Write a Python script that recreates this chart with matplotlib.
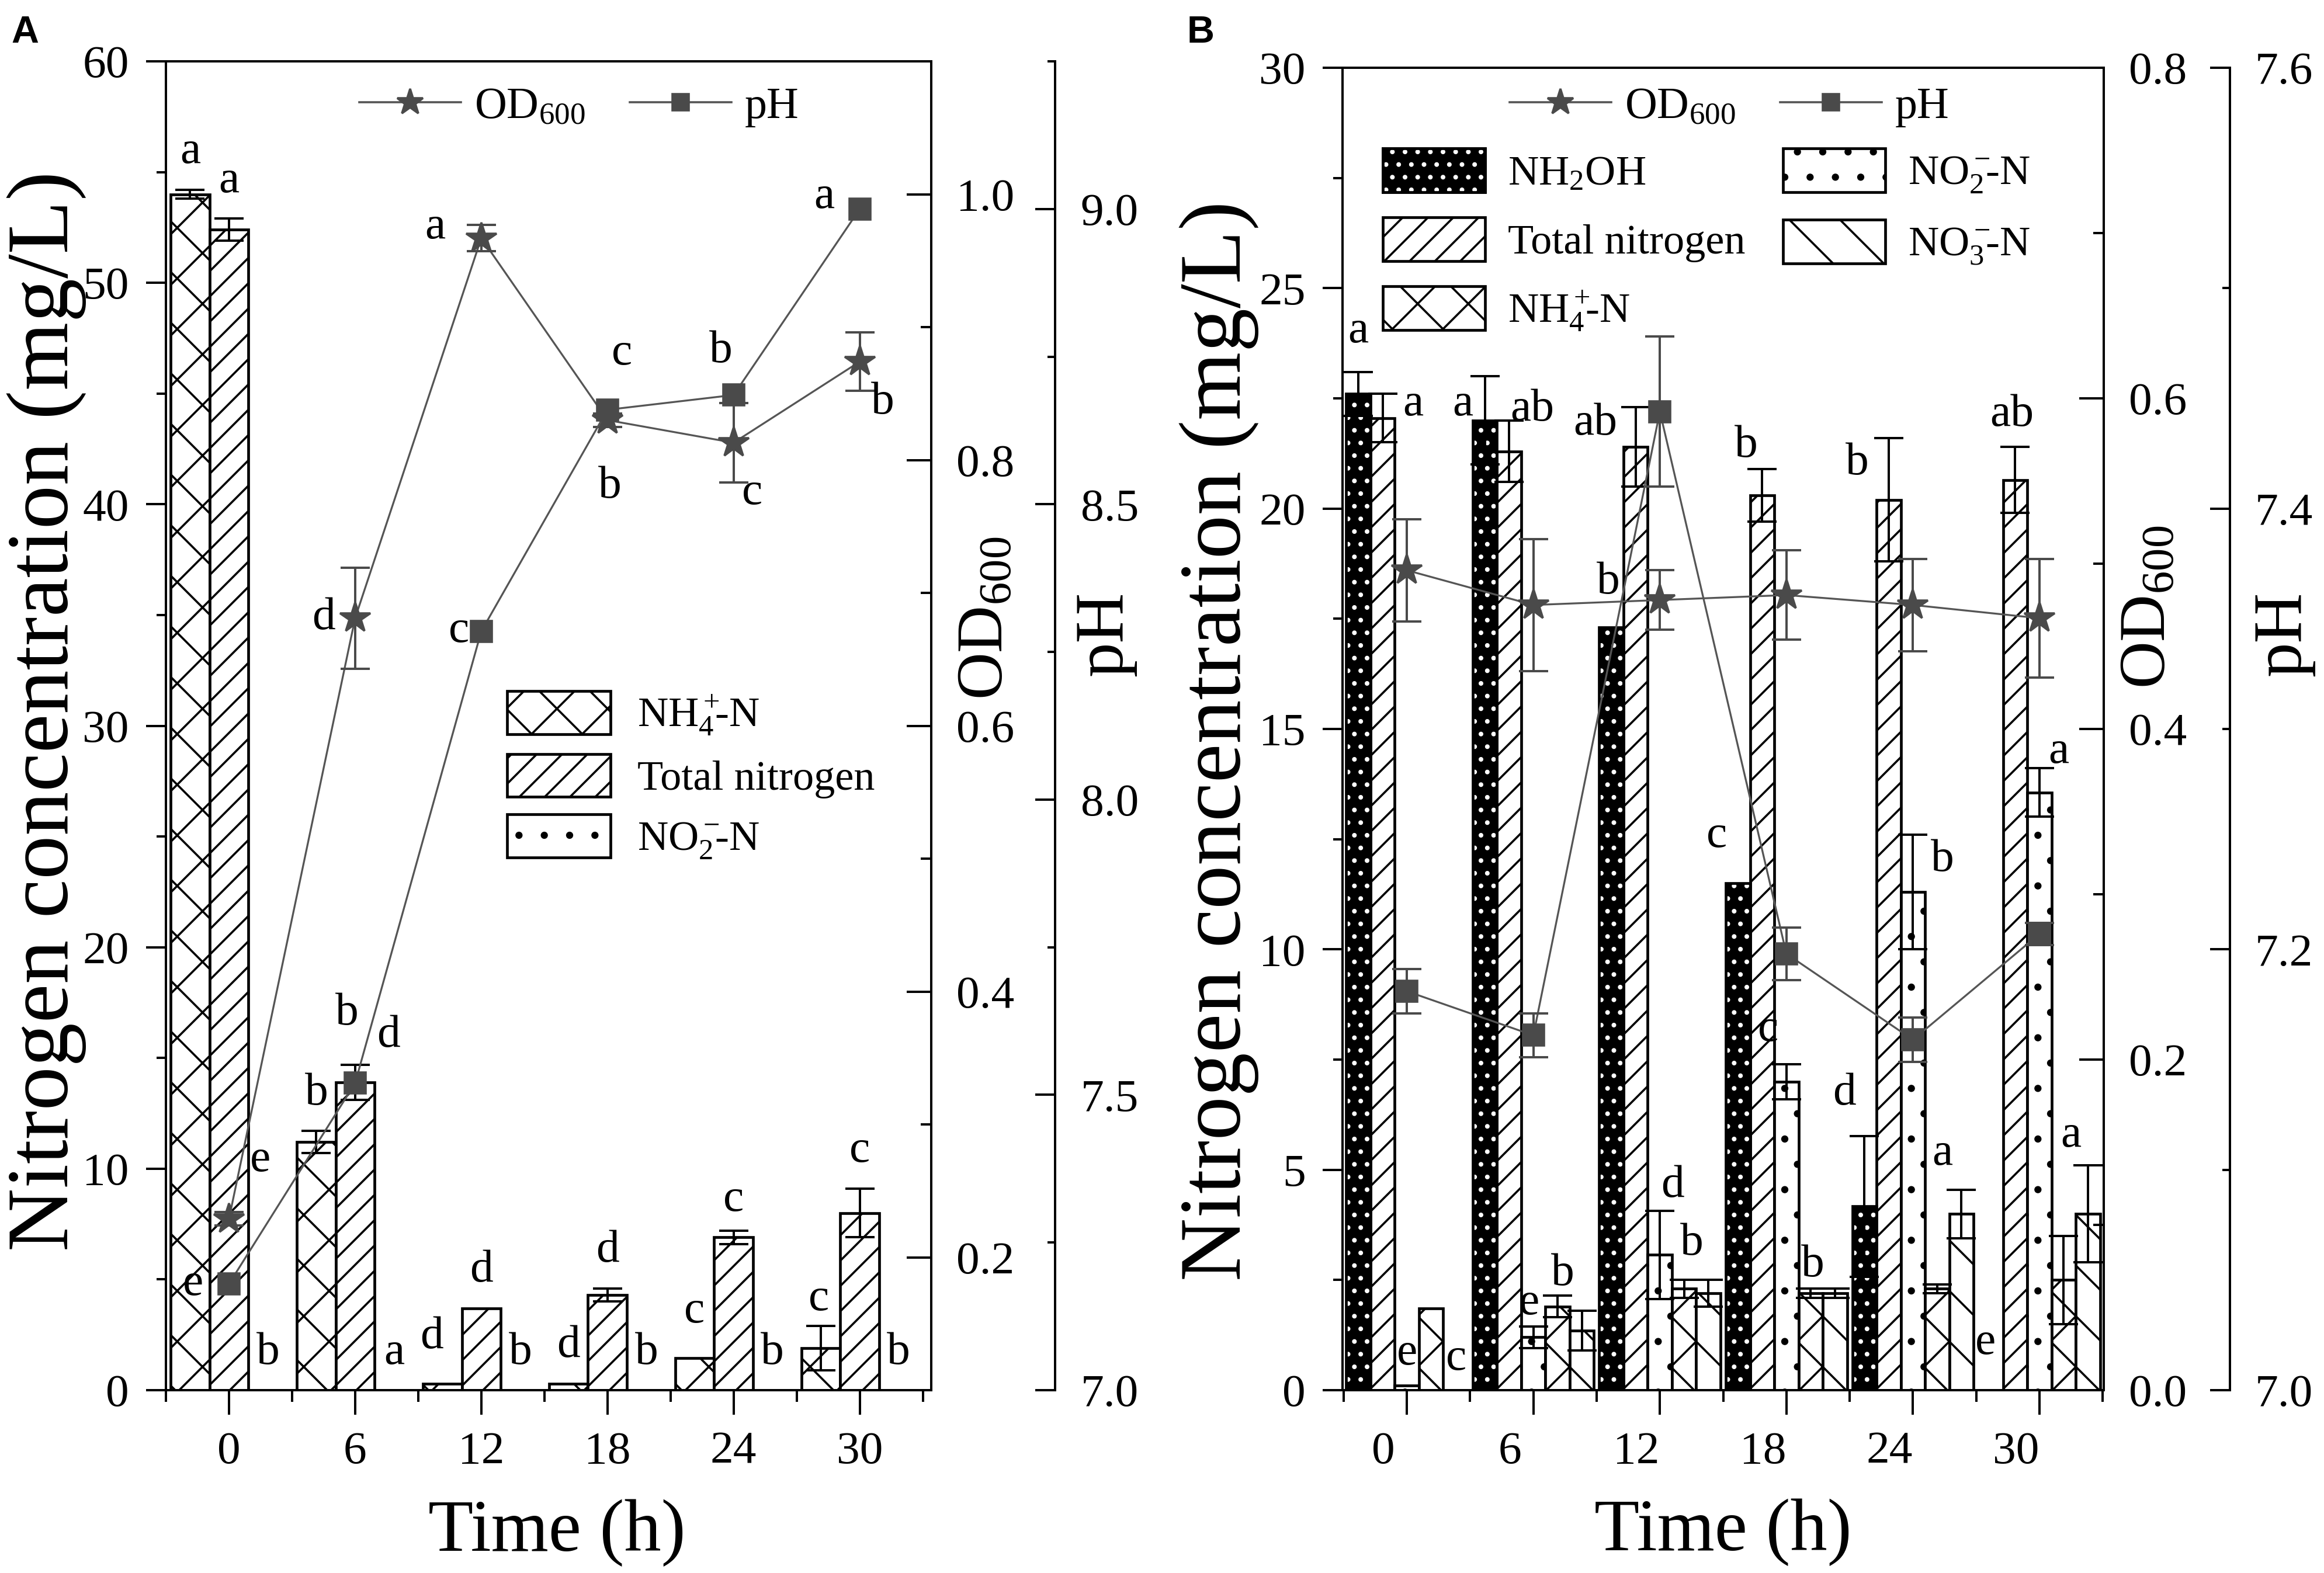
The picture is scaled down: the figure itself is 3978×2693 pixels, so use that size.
import matplotlib
matplotlib.use('Agg')
import matplotlib.pyplot as plt
from matplotlib.patches import Patch
from matplotlib.lines import Line2D
from matplotlib.ticker import MultipleLocator, FixedLocator, FormatStrFormatter
from matplotlib.legend_handler import HandlerTuple
from matplotlib.transforms import ScaledTranslation

plt.rcParams['font.family'] = ['Liberation Serif', 'DejaVu Serif']
plt.rcParams['mathtext.fontset'] = 'custom'
plt.rcParams['mathtext.rm'] = 'Liberation Serif'
plt.rcParams['mathtext.it'] = 'Liberation Serif:italic'
plt.rcParams['mathtext.bf'] = 'Liberation Serif:bold'
plt.rcParams['hatch.linewidth'] = 1.0

# ---------------- data ----------------
times = [0, 6, 12, 18, 24, 30]

# Panel A
a_nh4 = [54.0, 11.2, 0.3, 0.3, 1.45, 1.9]
a_nh4_err = [0.2, 0.5, 0.0, 0.0, 0.0, 1.0]
a_tn = [52.4, 13.9, 3.7, 4.3, 6.9, 8.0]
a_tn_err = [0.5, 0.8, 0.0, 0.3, 0.3, 1.1]
a_no2 = [0.0, 0.0, 0.0, 0.0, 0.0, 0.0]
a_no2_err = [0.0, 0.0, 0.0, 0.0, 0.0, 0.0]
a_od = [0.229, 0.681, 0.967, 0.830, 0.813, 0.874]
a_od_err = [0.005, 0.038, 0.010, 0.005, 0.030, 0.022]
a_ph = [7.18, 7.52, 8.285, 8.66, 8.685, 9.00]

a_nh4_letters = ['a', 'b', 'd', 'd', 'c', 'c']
a_tn_letters = ['a', 'b', 'd', 'd', 'c', 'c']
a_no2_letters = ['b', 'a', 'b', 'b', 'b', 'b']
a_od_letters = ['e', 'd', 'a', 'b', 'c', 'b']
a_ph_letters = ['e', 'd', 'c', 'c', 'b', 'a']

# Panel B
b_nh2oh = [22.6, 22.0, 17.3, 11.5, 4.17, 0.0]
b_nh2oh_err = [0.5, 1.0, 0.0, 0.0, 1.6, 0.0]
b_tn = [22.05, 21.3, 21.4, 20.3, 20.2, 20.65]
b_tn_err = [0.55, 0.7, 0.9, 0.6, 1.4, 0.75]
b_no2 = [0.1, 1.2, 3.07, 7.0, 11.3, 13.56]
b_no2_err = [0.0, 0.25, 1.0, 0.4, 1.3, 0.55]
b_nh4 = [1.85, 1.9, 2.3, 2.2, 2.3, 2.5]
b_nh4_err = [0.0, 0.25, 0.2, 0.1, 0.1, 1.0]
b_no3 = [0.0, 1.35, 2.2, 2.2, 4.0, 4.0]
b_no3_err = [0.0, 0.45, 0.3, 0.1, 0.55, 1.1]
b_od = [0.496, 0.475, 0.478, 0.481, 0.475, 0.467]
b_od_err = [0.031, 0.040, 0.018, 0.027, 0.028, 0.036]
b_ph = [7.181, 7.161, 7.444, 7.198, 7.159, 7.207]
b_ph_err = [0.010, 0.010, 0.034, 0.012, 0.010, 0.005]

b_nh2oh_letters = ['a', 'a', 'b', 'c', 'd', 'e']
b_tn_letters = ['a', 'ab', 'ab', 'b', 'b', 'ab']
b_no2_letters = ['e', 'e', 'd', 'c', 'b', 'a']
b_nh4_letters = ['', 'b', '', 'b', '', '']
b_no3_letters = ['c', '', 'b', '', 'a', 'a']

lbl_nh4 = 'NH$_4^+\\!\\!$-N'
lbl_tn = 'Total nitrogen'
lbl_no2 = 'NO$_2^-\\!\\!$-N'
lbl_no3 = 'NO$_3^-\\!\\!$-N'
lbl_nh2oh = 'NH$_2$OH'
lbl_od = 'OD$_{600}$'
lbl_ph = 'pH'

# ---------------- styles / layout ----------------
W, H = 3978, 2693
DPI = 260
fig = plt.figure(figsize=(W / DPI, H / DPI), dpi=DPI)

def fx(px):
    return px / W

def fy(py):
    return 1 - py / H

LW = 1.1
EDGE_LW = 1.3
MK_COL = '#4a4a4a'
LN_COL = '#555555'
LET_FS = 22
TICK_FS = 22
LEG_FS = 20

styles = {
    'nh4': dict(facecolor='white', hatch='x'),
    'tn': dict(facecolor='white', hatch='//'),
    'no2': dict(facecolor='white', hatch='.'),
    'no3': dict(facecolor='white', hatch='\\'),
}


def draw_bars(ax, xs, h, err, width, key):
    if key == 'nh2oh':
        ax.bar(xs, h, width, facecolor='black', edgecolor='black', linewidth=0, zorder=2)
        ax.bar(xs, h, width, facecolor='none', edgecolor='white', hatch='..', linewidth=0, zorder=2.1)
        ax.bar(xs, h, width, facecolor='none', edgecolor='black', linewidth=EDGE_LW, zorder=2.2)
    else:
        ax.bar(xs, h, width, edgecolor='black', linewidth=EDGE_LW, zorder=2, **styles[key])
    ex = [x for x, e in zip(xs, err) if e > 0]
    ey = [v for v, e in zip(h, err) if e > 0]
    ee = [e for e in err if e > 0]
    if ex:
        ax.errorbar(ex, ey, yerr=ee, fmt='none', ecolor='black', elinewidth=LW,
                    capsize=7, capthick=LW, zorder=3)


def style_axes(ax, ax_od, ax_ph, ph_pos, xlim):
    ax.set_xlim(*xlim)
    ax.xaxis.set_major_locator(FixedLocator(times))
    ax.xaxis.set_minor_locator(FixedLocator([-3, 3, 9, 15, 21, 27, 33]))
    ax.tick_params(axis='x', which='major', direction='out', length=11.5, width=LW,
                   labelsize=TICK_FS, pad=8)
    ax.tick_params(axis='x', which='minor', direction='out', length=5.5, width=LW)
    ax.tick_params(axis='y', which='major', direction='out', length=9.5, width=LW,
                   labelsize=TICK_FS, pad=8)
    ax.tick_params(axis='y', which='minor', direction='out', length=4.5, width=LW)
    for s in ax.spines.values():
        s.set_linewidth(LW)
    ax_od.tick_params(axis='y', which='major', direction='in', length=11.5, width=LW,
                      labelsize=TICK_FS, pad=12)
    ax_od.tick_params(axis='y', which='minor', direction='in', length=5, width=LW)
    ax_ph.spines['right'].set_position(('axes', ph_pos))
    for nm in ['top', 'left', 'bottom']:
        ax_ph.spines[nm].set_visible(False)
        ax_od.spines[nm].set_visible(False)
    ax_od.spines['right'].set_linewidth(LW)
    ax_ph.spines['right'].set_linewidth(LW)
    ax_ph.tick_params(axis='y', which='major', direction='in', length=9.5, width=LW,
                      labelsize=TICK_FS, pad=12)
    ax_ph.tick_params(axis='y', which='minor', direction='in', length=3.5, width=LW)
    ax_od.yaxis.set_major_formatter(FormatStrFormatter('%.1f'))
    ax_ph.yaxis.set_major_formatter(FormatStrFormatter('%.1f'))


def line_series(ax, y, yerr, marker, ms):
    ax.plot(times, y, color=LN_COL, lw=0.9, zorder=4)
    if yerr is not None:
        ax.errorbar(times, y, yerr=yerr, fmt='none', ecolor=MK_COL, elinewidth=LW,
                    capsize=7, capthick=LW, zorder=4)
    ax.plot(times, y, linestyle='none', marker=marker, ms=ms, mfc=MK_COL, mec=MK_COL,
            zorder=5)


def line_legend(ax, anchor):
    h_od = Line2D([], [], color=LN_COL, lw=1.0, marker='*', ms=13, mfc=MK_COL, mec=MK_COL)
    h_ph = Line2D([], [], color=LN_COL, lw=1.0, marker='s', ms=8, mfc=MK_COL, mec=MK_COL)
    ax.legend([h_od, h_ph], [lbl_od, lbl_ph], ncol=2, loc='center left',
              bbox_to_anchor=anchor, frameon=False, fontsize=21, handlelength=2.3,
              handletextpad=0.3, columnspacing=1.0, borderpad=0, borderaxespad=0)


def patch(key):
    return Patch(edgecolor='black', linewidth=EDGE_LW, **styles[key])


def nh2oh_patch():
    return (Patch(facecolor='black', edgecolor='black', linewidth=EDGE_LW),
            Patch(facecolor='none', edgecolor='white', hatch='..', linewidth=0),
            Patch(facecolor='none', edgecolor='black', linewidth=EDGE_LW))


# ================= Panel A =================
axA = fig.add_axes([fx(284), fy(2380), fx(1594 - 284), (2380 - 105) / H])
axA_od = axA.twinx()
axA_ph = axA.twinx()

wA = 1.85
offA = {'nh4': -1.85, 'tn': 0.0, 'no2': 1.85}
seriesA = [('nh4', a_nh4, a_nh4_err, a_nh4_letters),
           ('tn', a_tn, a_tn_err, a_tn_letters),
           ('no2', a_no2, a_no2_err, a_no2_letters)]
for key, h, e, _ in seriesA:
    draw_bars(axA, [t + offA[key] for t in times], h, e, wA, key)

# letter placement: (dx, dy-baseline) overrides
letA_adj = {('tn', 1): (-0.4, 1.8), ('nh4', 2): (-0.5, 1.6), ('nh4', 4): (0.0, 1.6),
            ('tn', 4): (0.0, 0.9), ('nh4', 5): (-0.1, 0.7)}
for key, h, e, lets in seriesA:
    for i, t in enumerate(times):
        dx, dy = letA_adj.get((key, i), (0.0, 1.2))
        axA.text(t + offA[key] + dx, h[i] + e[i] + dy, lets[i], ha='center',
                 va='baseline', fontsize=LET_FS, zorder=6)

axA.set_ylim(0, 60)
axA.yaxis.set_major_locator(MultipleLocator(10))
axA.yaxis.set_minor_locator(MultipleLocator(5))
axA_od.set_ylim(0.1, 1.1)
axA_od.yaxis.set_major_locator(FixedLocator([0.2, 0.4, 0.6, 0.8, 1.0]))
axA_od.yaxis.set_minor_locator(FixedLocator([0.1, 0.3, 0.5, 0.7, 0.9, 1.1]))
axA_ph.set_ylim(7.0, 9.25)
axA_ph.yaxis.set_major_locator(FixedLocator([7.0, 7.5, 8.0, 8.5, 9.0]))
axA_ph.yaxis.set_minor_locator(FixedLocator([7.25, 7.75, 8.25, 8.75, 9.25]))
style_axes(axA, axA_od, axA_ph, 1.162, (-3.0, 33.4))

line_series(axA_od, a_od, a_od_err, '*', 15)
line_series(axA_ph, a_ph, None, 's', 10)

od_adjA = [(1.5, 0.044), (-1.5, 0.0), (-2.2, 0.008), (0.1, -0.05), (0.9, -0.038), (1.1, -0.031)]
ph_adjA = [(-1.7, 0.0), (1.6, 0.08), (-1.05, 0.0), (0.7, 0.095), (-0.6, 0.074), (-1.7, 0.02)]
for i, t in enumerate(times):
    axA_od.text(t + od_adjA[i][0], a_od[i] + od_adjA[i][1], a_od_letters[i], ha='center',
                va='center', fontsize=LET_FS, zorder=6)
    axA_ph.text(t + ph_adjA[i][0], a_ph[i] + ph_adjA[i][1], a_ph_letters[i], ha='center',
                va='center', fontsize=LET_FS, zorder=6)

axA.set_xlabel('Time (h)', fontsize=35)
axA.xaxis.set_label_coords(0.511, -0.082)
axA.set_ylabel('Nitrogen concentration (mg/L)', fontsize=41.5)
axA.yaxis.set_label_coords(-0.104, 0.511)
axA_od.set_ylabel(lbl_od, fontsize=31)
axA_od.yaxis.set_label_coords(1.033, 0.581)
axA_ph.set_ylabel(lbl_ph, fontsize=33)
axA_ph.yaxis.set_label_coords(1.186, 0.569)

line_legend(axA_ph, (0.2527, 0.9657))
axA.legend([patch('nh4'), patch('tn'), patch('no2')], [lbl_nh4, lbl_tn, lbl_no2],
           loc='upper left', bbox_to_anchor=(0.4458, 0.526), frameon=False,
           fontsize=LEG_FS, handlelength=2.45, handleheight=1.19, labelspacing=0.38,
           handletextpad=0.64, borderpad=0, borderaxespad=0)

# ================= Panel B =================
axB = fig.add_axes([fx(2298), fy(2380), fx(3601 - 2298), (2380 - 116) / H])
axB_od = axB.twinx()
axB_ph = axB.twinx()

wB = 1.15
offB = {'nh2oh': -2.3, 'tn': -1.15, 'no2': 0.0, 'nh4': 1.15, 'no3': 2.3}
seriesB = [('nh2oh', b_nh2oh, b_nh2oh_err, b_nh2oh_letters),
           ('tn', b_tn, b_tn_err, b_tn_letters),
           ('no2', b_no2, b_no2_err, b_no2_letters),
           ('nh4', b_nh4, b_nh4_err, b_nh4_letters),
           ('no3', b_no3, b_no3_err, b_no3_letters)]
for key, h, e, _ in seriesB:
    draw_bars(axB, [t + offB[key] for t in times], h, e, wB, key)

letB_adj = {
    ('nh2oh', 0): (0.0, 0.67), ('tn', 0): (1.45, -0.48), ('no2', 0): (0.0, 0.48),
    ('no3', 0): (0.05, 0.46),
    ('nh2oh', 1): (-1.04, -0.88), ('tn', 1): (1.1, 0.0), ('no2', 1): (-0.2, 0.27),
    ('nh4', 1): (0.25, 0.23),
    ('nh2oh', 2): (-0.15, 0.78), ('tn', 2): (-1.9, -0.62), ('no2', 2): (0.6, 0.31),
    ('no3', 2): (-0.8, 0.58),
    ('nh2oh', 3): (-1.0, 0.82), ('tn', 3): (-0.75, 0.28), ('no2', 3): (-0.85, 0.52),
    ('nh4', 3): (0.1, 0.28),
    ('nh2oh', 4): (-0.95, 0.71), ('tn', 4): (-1.5, -0.82), ('no2', 4): (1.4, -0.82),
    ('no3', 4): (-0.9, 0.57),
    ('nh2oh', 5): (-0.25, 0.82), ('tn', 5): (-0.15, 0.48), ('no2', 5): (0.9, 0.12),
    ('no3', 5): (-0.8, 0.42),
}
for key, h, e, lets in seriesB:
    for i, t in enumerate(times):
        if not lets[i]:
            continue
        dx, dy = letB_adj.get((key, i), (0.0, 0.5))
        axB.text(t + offB[key] + dx, h[i] + e[i] + dy, lets[i], ha='center',
                 va='baseline', fontsize=LET_FS, zorder=6)

axB.set_ylim(0, 30)
axB.yaxis.set_major_locator(MultipleLocator(5))
axB.yaxis.set_minor_locator(MultipleLocator(2.5))
axB_od.set_ylim(0.0, 0.8)
axB_od.yaxis.set_major_locator(FixedLocator([0.0, 0.2, 0.4, 0.6, 0.8]))
axB_od.yaxis.set_minor_locator(FixedLocator([0.1, 0.3, 0.5, 0.7]))
axB_ph.set_ylim(7.0, 7.6)
axB_ph.yaxis.set_major_locator(FixedLocator([7.0, 7.2, 7.4, 7.6]))
axB_ph.yaxis.set_minor_locator(FixedLocator([7.1, 7.3, 7.5]))
style_axes(axB, axB_od, axB_ph, 1.1657, (-3.05, 33.05))
for lab in axB.get_xticklabels():
    lab.set_transform(lab.get_transform() + ScaledTranslation(-40 / DPI, 0, fig.dpi_scale_trans))

line_series(axB_od, b_od, b_od_err, '*', 15)
line_series(axB_ph, b_ph, b_ph_err, 's', 10)

axB.set_xlabel('Time (h)', fontsize=35)
axB.xaxis.set_label_coords(0.50, -0.082)
axB.set_ylabel('Nitrogen concentration (mg/L)', fontsize=41.5)
axB.yaxis.set_label_coords(-0.11, 0.491)
axB_od.set_ylabel(lbl_od, fontsize=31)
axB_od.yaxis.set_label_coords(1.020, 0.592)
axB_ph.set_ylabel(lbl_ph, fontsize=33)
axB_ph.yaxis.set_label_coords(1.195, 0.572)

line_legend(axB_ph, (0.2195, 0.9704))
axB.legend([nh2oh_patch(), patch('tn'), patch('nh4'), patch('no2'), patch('no3')],
           [lbl_nh2oh, lbl_tn, lbl_nh4, lbl_no2, lbl_no3], ncol=2,
           handler_map={tuple: HandlerTuple(ndivide=1, pad=0)},
           loc='upper left', bbox_to_anchor=(0.053, 0.939), frameon=False,
           fontsize=LEG_FS, handlelength=2.42, handleheight=1.22, labelspacing=0.57,
           handletextpad=0.54, columnspacing=0.9, borderpad=0, borderaxespad=0)

# panel letters
fig.text(fx(43), fy(56), 'A', ha='center', va='center', fontsize=18, fontweight='bold',
         family=['Liberation Sans', 'DejaVu Sans'])
fig.text(fx(2055), fy(56), 'B', ha='center', va='center', fontsize=18, fontweight='bold',
         family=['Liberation Sans', 'DejaVu Sans'])

fig.savefig('out.png', dpi=DPI)
